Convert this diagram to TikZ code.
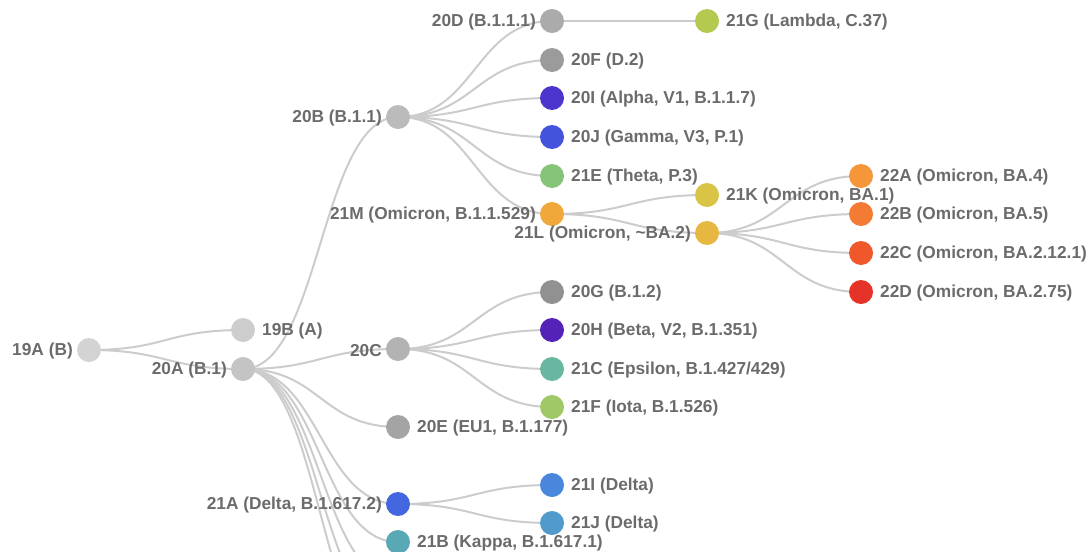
\documentclass[tikz,border=0pt]{standalone}
\usepackage{fontspec}
\setmainfont{Liberation Sans}
\usetikzlibrary{calc}
\definecolor{txt}{HTML}{6B6B6B}
\definecolor{edgec}{HTML}{CCCCCC}
\definecolor{c19A}{HTML}{D3D3D3}
\definecolor{c19B}{HTML}{CDCDCD}
\definecolor{c20A}{HTML}{C4C4C4}
\definecolor{c20B}{HTML}{BBBBBB}
\definecolor{c20C}{HTML}{B3B3B3}
\definecolor{c20D}{HTML}{ABABAB}
\definecolor{c20E}{HTML}{A4A4A4}
\definecolor{c20F}{HTML}{9B9B9B}
\definecolor{c20G}{HTML}{919191}
\definecolor{c20I}{HTML}{4B35CC}
\definecolor{c20J}{HTML}{4353DC}
\definecolor{c21E}{HTML}{86C47A}
\definecolor{c21M}{HTML}{F1A83B}
\definecolor{c21G}{HTML}{B3C94F}
\definecolor{c21K}{HTML}{D9C445}
\definecolor{c21L}{HTML}{E7B841}
\definecolor{c22A}{HTML}{F5963A}
\definecolor{c22B}{HTML}{F47B33}
\definecolor{c22C}{HTML}{F0582C}
\definecolor{c22D}{HTML}{E6332A}
\definecolor{c20H}{HTML}{5422B6}
\definecolor{c21C}{HTML}{69B7A1}
\definecolor{c21F}{HTML}{A1C866}
\definecolor{c21A}{HTML}{4466DE}
\definecolor{c21B}{HTML}{59A8B6}
\definecolor{c21I}{HTML}{4987DD}
\definecolor{c21J}{HTML}{509BCC}
\newcommand\lnk[2]{\path ($(#1.center)!.5!(#2.center)$) coordinate (mid);
  \draw[edgeline] (#1.center) .. controls (mid |- #1.center) and (mid |- #2.center) .. (#2.center);}
\begin{document}
\begin{tikzpicture}[x=1pt,y=-1pt,
  dot/.style={circle,minimum size=24pt,inner sep=0pt,fill=#1},
  edgeline/.style={draw=edgec,line width=2pt},
  lblr/.style={anchor=west,inner sep=0pt,yshift=-1.5pt,text=txt,font=\fontsize{17.3}{20}\selectfont\bfseries},
  lbll/.style={anchor=east,inner sep=0pt,yshift=-1.5pt,text=txt,font=\fontsize{17.3}{20}\selectfont\bfseries}]
\useasboundingbox (0,0) rectangle (1088,552);
\clip (0,0) rectangle (1088,552);
% node positions
\coordinate (p19A) at (89,350);
\coordinate (p19B) at (243,330);
\coordinate (p20A) at (243,369);
\coordinate (p20B) at (398,117);
\coordinate (p20C) at (398,349);
\coordinate (p20E) at (398,427);
\coordinate (p21A) at (398,504);
\coordinate (p21B) at (398,542);
\coordinate (x1) at (398,581);
\coordinate (x2) at (398,620);
\coordinate (x3) at (398,659);
\coordinate (p20D) at (552,21);
\coordinate (p20F) at (552,60);
\coordinate (p20I) at (552,98);
\coordinate (p20J) at (552,137);
\coordinate (p21E) at (552,176);
\coordinate (p21M) at (552,214);
\coordinate (p21G) at (707,21);
\coordinate (p21K) at (707,195);
\coordinate (p21L) at (707,233);
\coordinate (p22A) at (861,176);
\coordinate (p22B) at (861,214);
\coordinate (p22C) at (861,253);
\coordinate (p22D) at (861,292);
\coordinate (p20G) at (552,292);
\coordinate (p20H) at (552,330);
\coordinate (p21C) at (552,369);
\coordinate (p21F) at (552,407);
\coordinate (p21I) at (552,485);
\coordinate (p21J) at (552,523);
% edges
\lnk{p19A}{p19B}
\lnk{p19A}{p20A}
\lnk{p20A}{p20B}
\lnk{p20A}{p20C}
\lnk{p20A}{p20E}
\lnk{p20A}{p21A}
\lnk{p20A}{p21B}
\lnk{p20A}{x1}
\lnk{p20A}{x2}
\lnk{p20A}{x3}
\lnk{p20B}{p20D}
\lnk{p20B}{p20F}
\lnk{p20B}{p20I}
\lnk{p20B}{p20J}
\lnk{p20B}{p21E}
\lnk{p20B}{p21M}
\draw[edgeline] (p20D) -- (p21G);
\lnk{p21M}{p21K}
\lnk{p21M}{p21L}
\lnk{p21L}{p22A}
\lnk{p21L}{p22B}
\lnk{p21L}{p22C}
\lnk{p21L}{p22D}
\lnk{p20C}{p20G}
\lnk{p20C}{p20H}
\lnk{p20C}{p21C}
\lnk{p20C}{p21F}
\lnk{p21A}{p21I}
\lnk{p21A}{p21J}
% circles
\foreach \n in {19A,19B,20A,20B,20C,20E,21A,21B,20D,20F,20I,20J,21E,21M,21G,21K,21L,22A,22B,22C,22D,20G,20H,21C,21F,21I,21J}
  {\node[dot=c\n] (n\n) at (p\n) {};}
% labels
\node[lbll] (t19A) at ([xshift=-16pt]n19A.center) {19A (B)};
\node[lblr] (t19B) at ([xshift=19pt]n19B.center) {19B (A)};
\node[lbll] (t20A) at ([xshift=-16pt]n20A.center) {20A (B.1)};
\node[lbll] (t20B) at ([xshift=-16pt]n20B.center) {20B (B.1.1)};
\node[lbll] (t20C) at ([xshift=-16pt]n20C.center) {20C};
\node[lblr] (t20E) at ([xshift=19pt]n20E.center) {20E (EU1, B.1.177)};
\node[lbll] (t21A) at ([xshift=-16pt]n21A.center) {21A (Delta, B.1.617.2)};
\node[lblr] (t21B) at ([xshift=19pt]n21B.center) {21B (Kappa, B.1.617.1)};
\node[lbll] (t20D) at ([xshift=-16pt]n20D.center) {20D (B.1.1.1)};
\node[lblr] (t20F) at ([xshift=19pt]n20F.center) {20F (D.2)};
\node[lblr] (t20I) at ([xshift=19pt]n20I.center) {20I (Alpha, V1, B.1.1.7)};
\node[lblr] (t20J) at ([xshift=19pt]n20J.center) {20J (Gamma, V3, P.1)};
\node[lblr] (t21E) at ([xshift=19pt]n21E.center) {21E (Theta, P.3)};
\node[lbll] (t21M) at ([xshift=-16pt]n21M.center) {21M (Omicron, B.1.1.529)};
\node[lblr] (t21G) at ([xshift=19pt]n21G.center) {21G (Lambda, C.37)};
\node[lblr] (t21K) at ([xshift=19pt]n21K.center) {21K (Omicron, BA.1)};
\node[lbll] (t21L) at ([xshift=-16pt]n21L.center) {21L (Omicron, \textasciitilde BA.2)};
\node[lblr] (t22A) at ([xshift=19pt]n22A.center) {22A (Omicron, BA.4)};
\node[lblr] (t22B) at ([xshift=19pt]n22B.center) {22B (Omicron, BA.5)};
\node[lblr] (t22C) at ([xshift=19pt]n22C.center) {22C (Omicron, BA.2.12.1)};
\node[lblr] (t22D) at ([xshift=19pt]n22D.center) {22D (Omicron, BA.2.75)};
\node[lblr] (t20G) at ([xshift=19pt]n20G.center) {20G (B.1.2)};
\node[lblr] (t20H) at ([xshift=19pt]n20H.center) {20H (Beta, V2, B.1.351)};
\node[lblr] (t21C) at ([xshift=19pt]n21C.center) {21C (Epsilon, B.1.427/429)};
\node[lblr] (t21F) at ([xshift=19pt]n21F.center) {21F (Iota, B.1.526)};
\node[lblr] (t21I) at ([xshift=19pt]n21I.center) {21I (Delta)};
\node[lblr] (t21J) at ([xshift=19pt]n21J.center) {21J (Delta)};
\end{tikzpicture}
\end{document}
